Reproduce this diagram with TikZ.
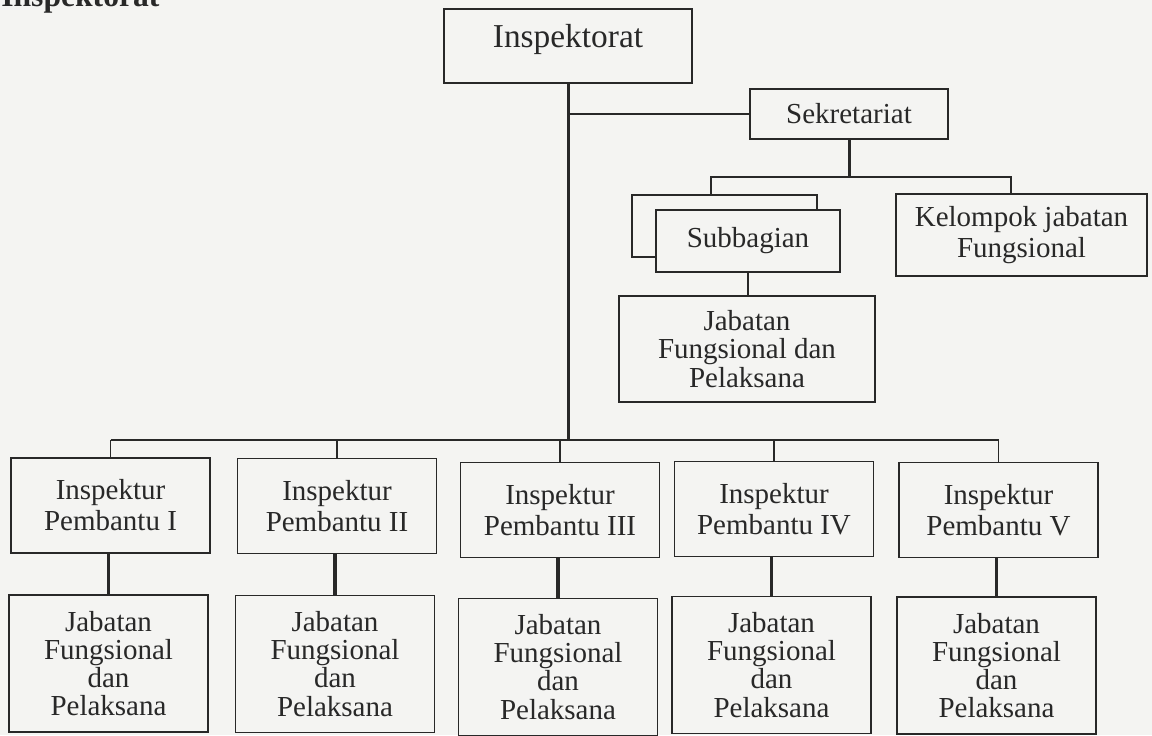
\documentclass[tikz,border=0pt]{standalone}
\usepackage{fontspec}
\setmainfont{Liberation Serif}
\usetikzlibrary{positioning}

\definecolor{paper}{RGB}{244,244,242}
\definecolor{ink}{RGB}{40,40,40}

\tikzset{
  unit/.style={draw=ink, line width=1.1pt, align=center, inner sep=2pt,
    text=ink, font=\fontsize{16.5}{17.6}\selectfont},
  link/.style={draw=ink, line width=1.1pt},
  heavy/.style={draw=ink, line width=2.2pt}
}

\begin{document}
\begin{tikzpicture}[x=0.02cm,y=-0.02cm]

% Paper and frame (1 unit = 1 pixel of the scan)
\fill[paper] (0,0) rectangle (1152,735);
\useasboundingbox (0,0) rectangle (1152,735);

% Heading, cut off at the top edge
\node[anchor=base west, inner sep=0pt, text=ink, font=\fontsize{18}{20}\selectfont\bfseries] (judul) at (1,6) {Inspektorat};

% Head of the office
\node[unit, minimum width=4.96cm, minimum height=1.48cm, text depth=12pt, font=\fontsize{19}{20}\selectfont] (insp) at (568,46) {Inspektorat};

% Secretariat branch
\node[unit, minimum width=3.96cm, minimum height=1.0cm] (sek) at (849,114) {Sekretariat};
\node[unit, minimum width=3.7cm, minimum height=1.24cm] (subB) at (724.5,226) {};
\node[unit, fill=paper, minimum width=3.68cm, minimum height=1.24cm] (sub) at (748,241) {Subbagian};
\node[unit, minimum width=5.02cm, minimum height=1.64cm] (kel) at (1021.5,235) {Kelompok jabatan\\Fungsional};
\node[unit, minimum width=5.12cm, minimum height=2.12cm, font=\fontsize{16.5}{16}\selectfont] (jabsek) at (747,349) {Jabatan\\Fungsional dan\\Pelaksana};

% Inspektur Pembantu I..V and their staff
\foreach \i/\x/\y/\xx/\yy/\r in {1/110.5/505.5/108.5/663.5/I, 2/337/506/335/664/II,
    3/560/510/558/667/III, 4/774/509/771.5/665/IV, 5/998.5/510/996.5/665.5/V}
{
  \node[unit, minimum width=3.98cm, minimum height=1.9cm] (ins\i) at (\x,\y) {Inspektur\\Pembantu \r};
  \node[unit, minimum width=3.98cm, minimum height=2.74cm, font=\fontsize{16.5}{16}\selectfont] (jab\i) at (\xx,\yy) {Jabatan\\Fungsional\\dan\\Pelaksana};
}

% Connectors
\coordinate (bus) at (566,440);
\coordinate (sbL) at (711,177);
\coordinate (sbR) at (1011,177);

\draw[link, line width=1.7pt] (insp.south) -- (insp.south |- bus);
\draw[link] (insp.south |- sek.west) -- (sek.west);
\draw[link] (ins1.north |- bus) -- (ins5.north |- bus);
\foreach \i in {1,...,5}
{
  \draw[link] (ins\i.north) -- (ins\i.north |- bus);
  \draw[heavy] (jab\i.north) -- (jab\i.north |- ins\i.south);
}

\draw[link, line width=1.7pt] (sek.south) -- (sek.south |- sbL);
\draw[link] (subB.north -| sbL) -- (sbL) -- (sbR) -- (kel.north -| sbR);
\draw[link] (sub.south) -- (sub.south |- jabsek.north);

\end{tikzpicture}
\end{document}
